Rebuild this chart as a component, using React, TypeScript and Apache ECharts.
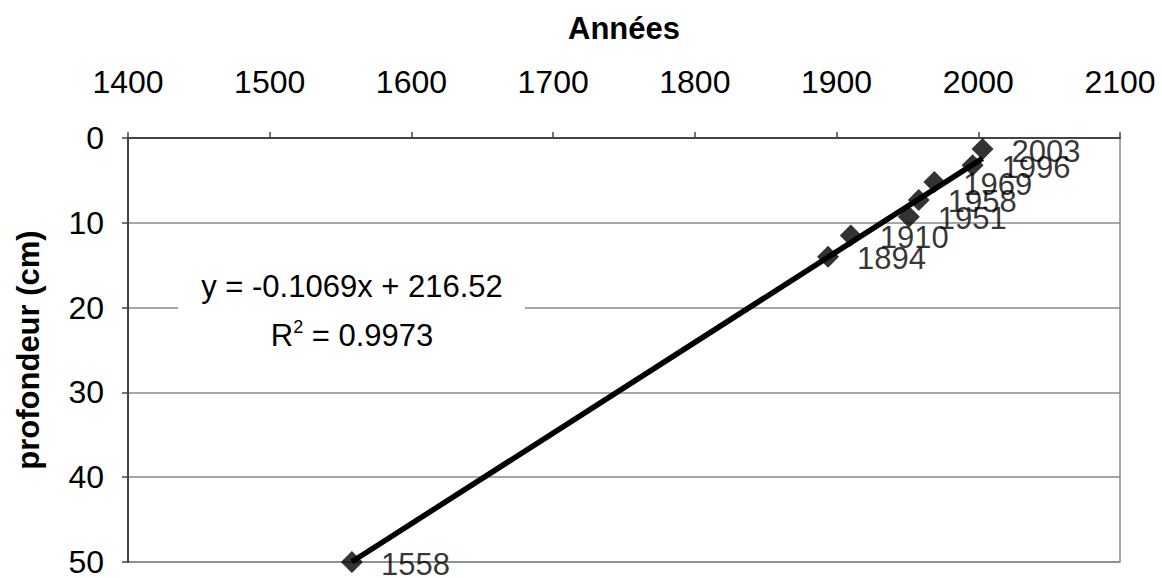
import React, { useEffect, useRef } from "react";
import * as echarts from "echarts";

const years = [1558, 1894, 1910, 1951, 1958, 1969, 1996, 2003];
const depths = [50, 14, 11.5, 9.3, 7.3, 5.2, 3.2, 1.3];
const xTicks = { min: 1400, max: 2100, interval: 100 };
const yTicks = { min: 0, max: 50, interval: 10 };
const slope = -0.1069;
const intercept = 216.52;
const equationText = "y = -0.1069x + 216.52";
const r2Value = "0.9973";
const xTitle = "Années";
const yTitle = "profondeur (cm)";

const FONT = "Liberation Sans, Arial, sans-serif";

export default function App() {
  const ref = useRef<HTMLDivElement>(null);
  useEffect(() => {
    if (!ref.current) return;
    const chart = echarts.init(ref.current, undefined, { renderer: "svg" });
    const xStart = years[0];
    const xEnd = years[years.length - 1];
    const trend = [
      [xStart, slope * xStart + intercept],
      [xEnd, slope * xEnd + intercept],
    ];
    chart.setOption({
      animation: false,
      backgroundColor: "#ffffff",
      textStyle: { fontFamily: FONT },
      grid: {
        left: 128,
        right: 42,
        top: 138,
        bottom: 16,
        containLabel: false,
        outerBoundsMode: "none",
        show: true,
        borderColor: "#8a8a8a",
        borderWidth: 1.5,
        backgroundColor: "transparent",
      },
      xAxis: {
        type: "value",
        position: "top",
        min: xTicks.min,
        max: xTicks.max,
        interval: xTicks.interval,
        name: xTitle,
        nameLocation: "middle",
        nameGap: 94,
        nameTextStyle: { fontSize: 31, fontWeight: "bold", color: "#000", fontFamily: FONT },
        axisLine: { show: true, lineStyle: { color: "#444", width: 2 } },
        axisTick: { show: true, length: 6, lineStyle: { color: "#444", width: 1.5 } },
        axisLabel: {
          fontSize: 32,
          color: "#000",
          margin: 40,
          fontFamily: FONT,
          formatter: (v: number) => String(v),
        },
        splitLine: { show: false },
      },
      yAxis: {
        type: "value",
        inverse: true,
        min: yTicks.min,
        max: yTicks.max,
        interval: yTicks.interval,
        name: yTitle,
        nameLocation: "middle",
        nameGap: 84,
        nameTextStyle: { fontSize: 31, fontWeight: "bold", color: "#000", fontFamily: FONT },
        axisLine: { show: true, lineStyle: { color: "#444", width: 2 } },
        axisTick: { show: true, length: 6, lineStyle: { color: "#444", width: 1.5 } },
        axisLabel: {
          fontSize: 32,
          color: "#000",
          margin: 24,
          fontFamily: FONT,
          formatter: (v: number) => String(v),
        },
        splitLine: { show: true, lineStyle: { color: "#8a8a8a", width: 1.5 } },
      },
      series: [
        {
          type: "line",
          data: trend,
          showSymbol: false,
          symbol: "none",
          lineStyle: { color: "#000", width: 5.5 },
          z: 3,
        },
        {
          type: "scatter",
          data: years.map((y, i) => [y, depths[i]]),
          symbol: "diamond",
          symbolSize: 22,
          itemStyle: { color: "#000" },
          z: 4,
          label: {
            show: true,
            position: "right",
            distance: 18,
            offset: [0, 2],
            fontSize: 31,
            color: "#000",
            fontFamily: FONT,
            formatter: (p: any) => String(p.value[0]),
          },
        },
      ],
      graphic: [
        {
          type: "rect",
          z: 100,
          shape: { x: 178, y: 262, width: 347, height: 92 },
          style: { fill: "#ffffff" },
        },
        {
          type: "text",
          z: 101,
          x: 352,
          y: 286,
          style: {
            text: equationText,
            fontSize: 31,
            fontFamily: FONT,
            fill: "#000",
            textAlign: "center",
            textVerticalAlign: "middle",
          },
        },
        {
          type: "text",
          z: 101,
          x: 352,
          y: 335,
          style: {
            text: "R{s|2} = " + r2Value,
            fontSize: 31,
            fontFamily: FONT,
            fill: "#000",
            textAlign: "center",
            textVerticalAlign: "middle",
            rich: {
              s: { fontSize: 18, verticalAlign: "top", lineHeight: 34, fill: "#000", fontFamily: FONT },
            },
          },
        },
      ],
    });
    return () => chart.dispose();
  }, []);
  return (
    <div
      ref={ref}
      style={{ position: "fixed", left: 0, top: 0, width: 1162, height: 578 }}
    />
  );
}
